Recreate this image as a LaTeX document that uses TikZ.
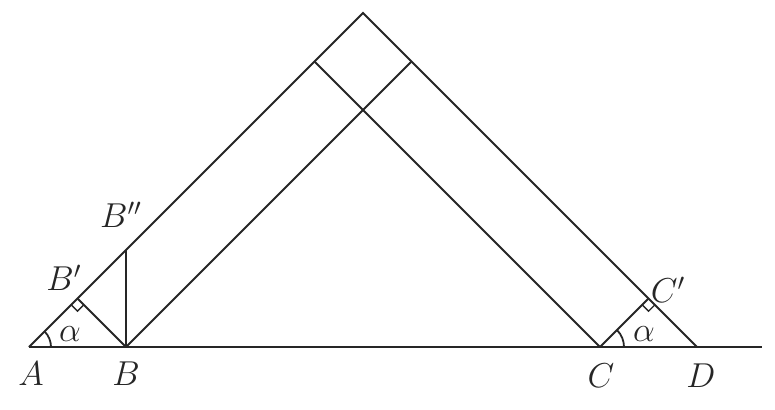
\documentclass[tikz,border=0pt]{standalone}
\usetikzlibrary{angles,calc}
\begin{document}
\begin{tikzpicture}[x=0.5pt,y=0.5pt,
  line/.style={line width=0.9pt,draw=black!85},
  lbl/.style={inner sep=0pt,font=\fontsize{18}{20}\selectfont,text=black!85}]
\useasboundingbox (0,0) rectangle (775,409);
\coordinate (A) at (29,62);
\coordinate (B) at (126,62);
\coordinate (C) at (600,62);
\coordinate (D) at (697,62);
\coordinate (E) at (762,62);
\coordinate (T) at (363,396);
\coordinate (P) at (411.5,347.5);
\coordinate (Q) at (314.5,347.5);
\coordinate (B2) at (126,159);
\coordinate (B1) at (77.5,110.5);
\coordinate (C1) at (648.5,110.5);
\draw[line] (A) -- (E);
\draw[line] (A) -- (T) -- (D);
\draw[line] (B) -- (P);
\draw[line] (C) -- (Q);
\draw[line] (B) -- (B2);
\draw[line] (B) -- (B1);
\draw[line] (C) -- (C1);
\pic[draw=black!85,line width=0.9pt,angle radius=11pt] {angle=B--A--T};
\pic[draw=black!85,line width=0.9pt,angle radius=12pt] {angle=D--C--C1};
\pic[draw=black!85,line width=0.7pt,angle radius=4.5pt] {right angle=A--B1--B};
\pic[draw=black!85,line width=0.7pt,angle radius=4.5pt] {right angle=C--C1--D};
\node[lbl] (lA) at (31,35) {$A$};
\node[lbl] (lB) at (126,35) {$B$};
\node[lbl] (lC) at (601,33) {$C$};
\node[lbl] (lD) at (701,33) {$D$};
\node[lbl] (lB1) at (64,131) {$B'$};
\node[lbl] (lB2) at (121,194) {$B''$};
\node[lbl] (lC1) at (668,119) {$C'$};
\node[lbl] (la1) at (70,75) {$\alpha$};
\node[lbl] (la2) at (644,75) {$\alpha$};
\end{tikzpicture}
\end{document}
